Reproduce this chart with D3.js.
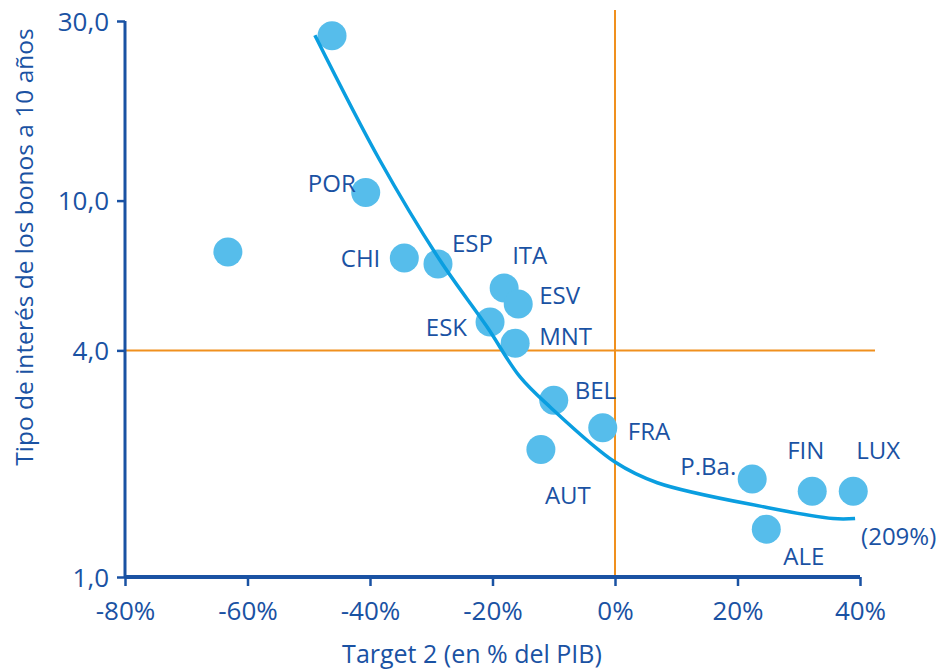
<!DOCTYPE html>
<html>
<head>
<meta charset="utf-8">
<script src="https://cdn.jsdelivr.net/npm/d3@7"></script>
<style>
  body { margin: 0; background: #fff; }
  svg { font-family: "Open Sans", "Noto Sans", sans-serif; }
</style>
</head>
<body>
<svg width="947" height="671"></svg>
<script>
// Data
var countries = ['', 'POR', '', 'CHI', 'ESP', 'ITA', 'ESV', 'ESK', 'MNT', 'BEL', 'FRA', 'AUT', 'P.Ba.', 'FIN', 'LUX', 'ALE'];
var target2 = [-46.2, -40.7, -63.2, -34.4, -28.9, -18.1, -15.8, -20.4, -16.3, -10.0, -2.0, -12.1, 22.4, 32.2, 38.9, 24.7];
var bondYield = [27.4, 10.5, 7.3, 7.04, 6.79, 5.86, 5.31, 4.76, 4.18, 2.95, 2.49, 2.18, 1.82, 1.69, 1.69, 1.34];

// Fitted curve
var fitX = [-49.0, -38.4, -28.6, -20.9, -15.5, -10.6, 0, 6.9, 24.8, 35.6, 39.2];
var fitY = [27.5, 12.8, 6.95, 4.62, 3.40, 2.83, 2.02, 1.78, 1.53, 1.43, 1.43];

var xTicks = [-80, -60, -40, -20, 0, 20, 40];
var yTicks = [1, 4, 10, 30];

// Label offsets from each point (layout only)
var labelOffset = {
  'POR': [-10, -9, 'end'], 'CHI': [-24, 1, 'end'], 'ESP': [14, -20, 'start'],
  'ITA': [8, -32, 'start'], 'ESV': [21, -8, 'start'], 'ESK': [-23, 6, 'end'],
  'MNT': [24, -7, 'start'], 'BEL': [21, -10, 'start'], 'FRA': [25, 4, 'start'],
  'AUT': [4, 46, 'start'], 'P.Ba.': [-16, -13, 'end'], 'FIN': [-25, -41, 'start'],
  'LUX': [3, -41, 'start'], 'ALE': [17, 27, 'start']
};

var margin = {top: 21, right: 87, bottom: 94, left: 125};
var width = 947 - margin.left - margin.right;
var height = 671 - margin.top - margin.bottom;

var axisColor = '#1a52a3';
var orange = '#f0901e';

var x = d3.scaleLinear().domain([-80, 40]).range([0, width]);
var y = d3.scaleLog().domain([1, 30]).range([height, 0]);

var chart = d3.select('svg').append('g')
  .attr('transform', 'translate(' + margin.left + ',' + margin.top + ')');

// Reference lines at 0% and 4,0
chart.append('line')
  .attr('x1', x(0)).attr('x2', x(0))
  .attr('y1', -11).attr('y2', height)
  .attr('stroke', orange).attr('stroke-width', 2);
chart.append('line')
  .attr('x1', 0).attr('x2', width + 15)
  .attr('y1', y(4)).attr('y2', y(4))
  .attr('stroke', orange).attr('stroke-width', 2);

// Axes
var fmtY = function(d) { return d3.format('.1f')(d).replace('.', ','); };
var yAxis = d3.axisLeft(y).tickValues(yTicks).tickFormat(fmtY).tickSize(8).tickPadding(8);
var xAxis = d3.axisBottom(x).tickValues(xTicks).tickFormat(d => d + '%').tickSize(9).tickPadding(16);

var gy = chart.append('g').call(yAxis);
var gx = chart.append('g').attr('transform', 'translate(0,' + height + ')').call(xAxis);

gy.select('.domain').attr('stroke', axisColor).attr('stroke-width', 3).attr('d', 'M0,0V' + height);
gx.select('.domain').attr('stroke', axisColor).attr('stroke-width', 4).attr('d', 'M0,0H' + width);
[gx, gy].forEach(function(g) {
  g.selectAll('.tick line').attr('stroke', axisColor).attr('stroke-width', 2.5);
  g.selectAll('.tick text').attr('fill', axisColor).attr('font-size', 26)
    .attr('font-family', '"Open Sans", sans-serif');
});
gy.selectAll('.tick text').attr('dy', '0.35em');

// Axis titles
chart.append('text')
  .attr('x', 347).attr('y', height + 86)
  .attr('text-anchor', 'middle')
  .attr('fill', axisColor).attr('font-size', 25)
  .text('Target 2 (en % del PIB)');
chart.append('text')
  .attr('transform', 'translate(-92,226) rotate(-90)')
  .attr('text-anchor', 'middle')
  .attr('fill', axisColor).attr('font-size', 24.5)
  .text('Tipo de interés de los bonos a 10 años');

// Points
var points = countries.map((c, i) => ({name: c, t2: target2[i], yld: bondYield[i]}));

chart.selectAll('circle.pt')
  .data(points).enter()
  .append('circle')
  .attr('class', 'pt')
  .attr('cx', d => x(d.t2))
  .attr('cy', d => y(d.yld))
  .attr('r', 14.5)
  .attr('fill', '#56bdeb');

// Fitted curve
var fit = fitX.map((v, i) => ({t2: v, yld: fitY[i]}));
var line = d3.line().x(d => x(d.t2)).y(d => y(d.yld)).curve(d3.curveCatmullRom.alpha(0.5));
chart.append('path')
  .datum(fit)
  .attr('fill', 'none')
  .attr('stroke', '#0a9ee0')
  .attr('stroke-width', 3.5)
  .attr('d', line);

// Labels
chart.selectAll('text.lbl')
  .data(points.filter(d => d.name)).enter()
  .append('text')
  .attr('class', 'lbl')
  .attr('x', d => x(d.t2) + labelOffset[d.name][0])
  .attr('y', d => y(d.yld) + labelOffset[d.name][1])
  .attr('dy', '0.35em')
  .attr('text-anchor', d => labelOffset[d.name][2])
  .attr('fill', axisColor)
  .attr('font-size', 24)
  .text(d => d.name);

chart.append('text')
  .attr('x', x(39.2) + 6).attr('y', y(1.43) + 18)
  .attr('dy', '0.35em')
  .attr('fill', axisColor)
  .attr('font-size', 24)
  .text('(209%)');
</script>
</body>
</html>
